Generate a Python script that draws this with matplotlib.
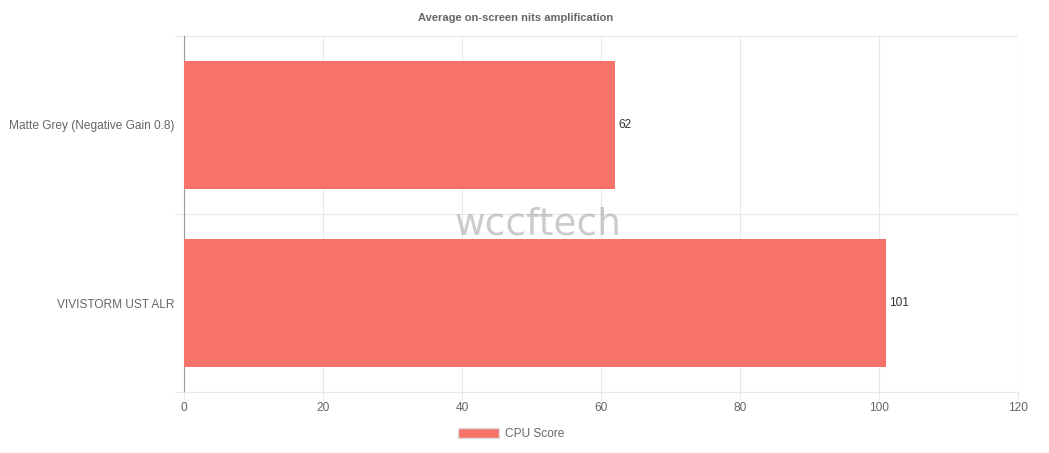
import matplotlib
matplotlib.use("Agg")
import matplotlib.pyplot as plt
from matplotlib.patches import Patch

categories = ["Matte Grey (Negative Gain 0.8)", "VIVISTORM UST ALR"]
values = [62, 101]
series_name = "CPU Score"
title = "Average on-screen nits amplification"
xticks = [0, 20, 40, 60, 80, 100, 120]

plt.rcParams['font.family'] = ['Liberation Sans', 'DejaVu Sans']
bar_color = "#F7736A"
text_color = "#666666"
grid_color = "#E8E8E8"

fig = plt.figure(figsize=(10.49, 4.53), dpi=100)
ax = fig.add_axes([184/1049, 1 - 392/453, (1018-184)/1049, (392-36)/453])

ypos = list(range(len(categories)))
ax.barh(ypos, values, height=0.72, color=bar_color, zorder=3)
ax.set_ylim(len(categories) - 0.5, -0.5)
ax.set_xlim(0, 120)
ax.set_xticks(xticks)
ax.set_xticklabels([str(t) for t in xticks])
ax.set_yticks(ypos)
ax.set_yticklabels(categories)

# category boundary gridlines
ax.set_yticks([-0.5 + i for i in range(len(categories) + 1)], minor=True)
ax.grid(True, which='minor', axis='y', color=grid_color, linewidth=0.8, zorder=0)
ax.grid(True, which='major', axis='x', color=grid_color, linewidth=0.8, zorder=0)
ax.tick_params(axis='y', which='major', length=0, pad=7, labelsize=8.6, labelcolor=text_color)
ax.tick_params(axis='y', which='minor', length=7, color=grid_color)
ax.tick_params(axis='x', length=6, color=grid_color, labelsize=8.6, labelcolor=text_color, pad=1)

for s in ['top', 'right']:
    ax.spines[s].set_visible(False)
ax.spines['bottom'].set_color(grid_color)
ax.spines['left'].set_color("#999999")

for y, v in zip(ypos, values):
    ax.text(v + 0.5, y, str(v), va='center', ha='left', fontsize=8.6, color="#333333", zorder=4)

# watermark
fig.text(538/1049, 1 - 224/453, "wccftech", ha='center', va='center', fontsize=27,
         color="#999999", alpha=0.5, zorder=10, fontfamily=['DejaVu Sans'])

fig.text(516/1049, 1 - 18/453, title, ha='center', va='center', fontsize=8,
         fontweight='bold', color=text_color)

leg = fig.legend(handles=[Patch(facecolor=bar_color, edgecolor='#dddddd', label=series_name)],
                 loc='center', bbox_to_anchor=(511/1049, 1 - 434/453), frameon=False,
                 handlelength=3.4, handleheight=1.0, fontsize=8.6, labelcolor=text_color,
                 handletextpad=0.5)

fig.savefig("out.png", dpi=100)
